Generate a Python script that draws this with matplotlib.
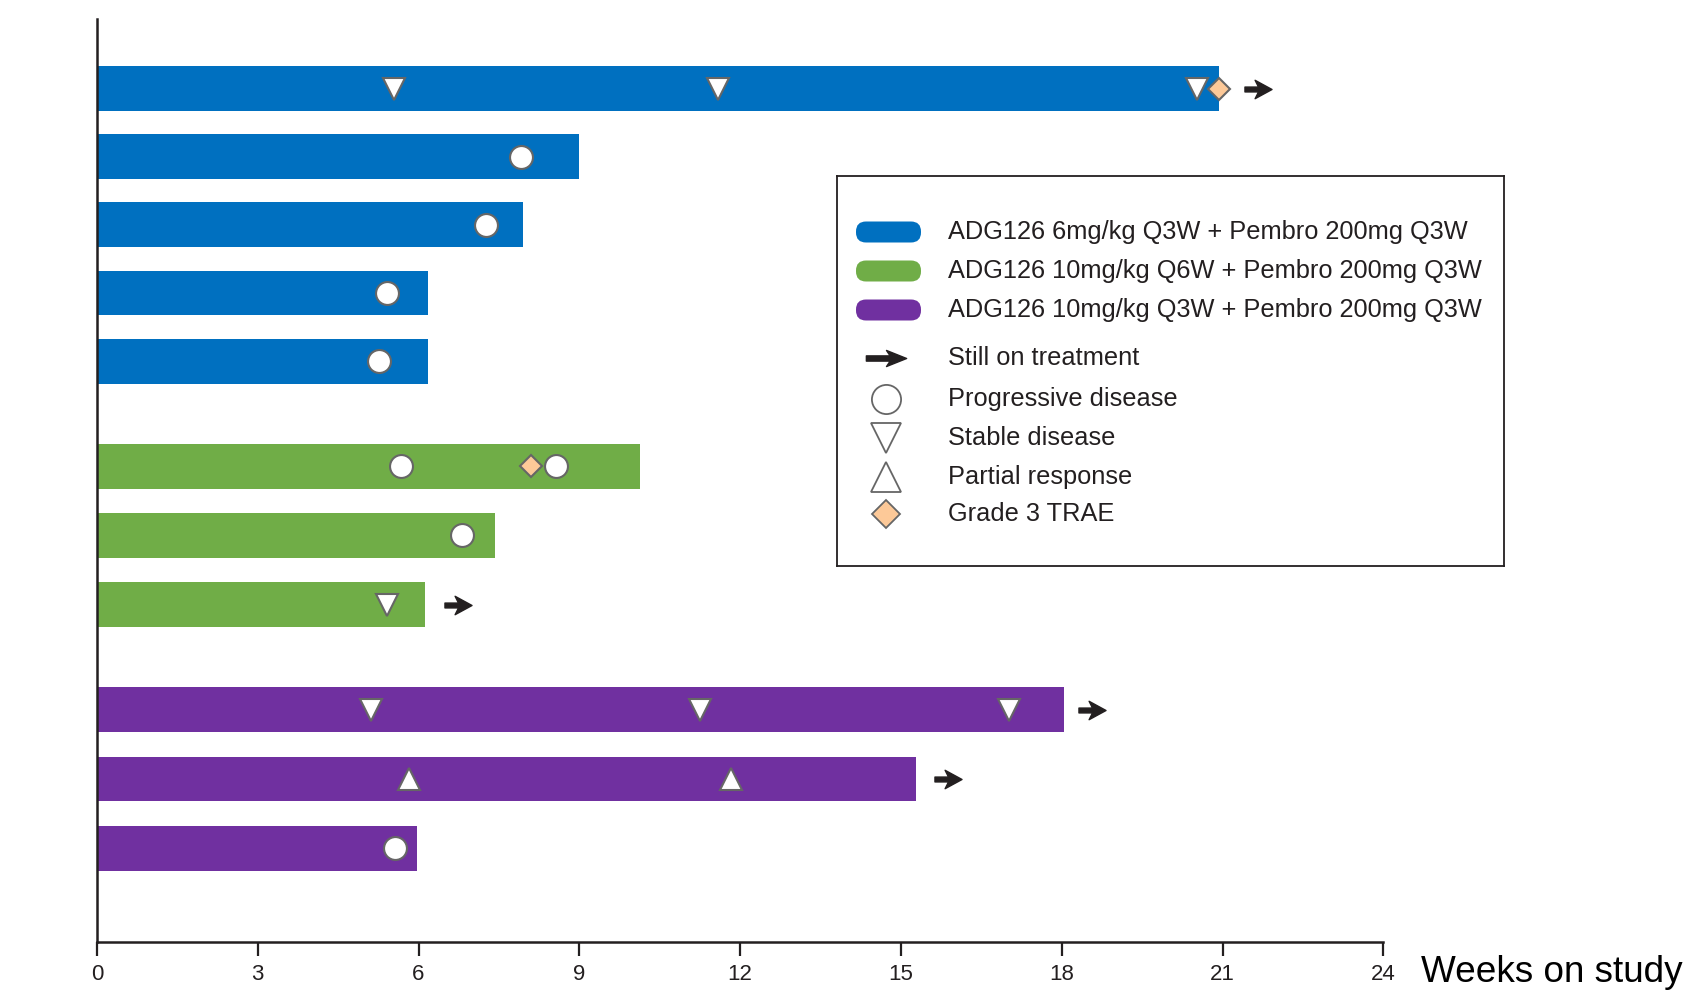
import matplotlib
matplotlib.use("Agg")
import matplotlib.pyplot as plt
from matplotlib.path import Path
from matplotlib.patches import FancyBboxPatch

plt.rcParams['font.family'] = ['Liberation Sans', 'DejaVu Sans']

# ---------------- data ----------------
group_names = ['ADG126 6mg/kg Q3W + Pembro 200mg Q3W',
               'ADG126 10mg/kg Q6W + Pembro 200mg Q3W',
               'ADG126 10mg/kg Q3W + Pembro 200mg Q3W']
group_colors = ['#0070C0', '#70AD47', '#7030A0']

patient_group = [0, 0, 0, 0, 0, 1, 1, 1, 2, 2, 2]
weeks_on_study = [20.93, 9.00, 7.95, 6.17, 6.17, 10.13, 7.43, 6.13, 18.04, 15.28, 5.98]

pd_weeks = [[], [7.91], [7.25], [5.42], [5.26], [5.67, 8.56], [6.82], [], [], [], [5.56]]
sd_weeks = [[5.54, 11.59, 20.52], [], [], [], [], [], [], [5.42], [5.11, 11.25, 17.01], [], []]
pr_weeks = [[], [], [], [], [], [], [], [], [], [5.82, 11.83], []]
trae_weeks = [[20.93], [], [], [], [], [8.09], [], [], [], [], []]
still_on_treatment = [21.66, None, None, None, None, None, None, 6.74, 18.56, 15.87, None]

x_ticks = [0, 3, 6, 9, 12, 15, 18, 21, 24]
x_label = 'Weeks on study'

marker_labels = ['Still on treatment', 'Progressive disease', 'Stable disease',
                 'Partial response', 'Grade 3 TRAE']

# ---------------- styles ----------------
TXT = '#231F20'
EDGE = '#666666'
TRAE_FACE = '#FDC998'

# row positions: near-unit spacing within group, wider gap between groups
row_y = []
y = 0.0
for i, g in enumerate(patient_group):
    if i > 0:
        if g != patient_group[i - 1]:
            y += 1.52
        else:
            y += 0.985 if g == 0 else 1.0
    row_y.append(y)


def arrow_path(head_back, notch, half_h, tail_h):
    verts = [(-1, tail_h), (notch, tail_h), (head_back, half_h), (1, 0),
             (head_back, -half_h), (notch, -tail_h), (-1, -tail_h), (-1, tail_h)]
    codes = [Path.MOVETO] + [Path.LINETO] * 6 + [Path.CLOSEPOLY]
    return Path(verts, codes)


chart_arrow = arrow_path(-0.25, 0.0, 0.68, 0.18)
legend_arrow = arrow_path(0.0, 0.18, 0.40, 0.13)

fig = plt.figure(figsize=(16.88, 10.02), dpi=100)
ax = fig.add_axes([96.9 / 1688, 1 - 942 / 1002, 1286.4 / 1688, (942 - 19.4) / 1002])

ax.barh(row_y, weeks_on_study, height=0.65, left=0,
        color=[group_colors[g] for g in patient_group], zorder=2)

mk = dict(markeredgecolor=EDGE, markeredgewidth=1.5, linestyle='none', zorder=4)
for i, yy in enumerate(row_y):
    if pd_weeks[i]:
        ax.plot(pd_weeks[i], [yy] * len(pd_weeks[i]), 'o', markersize=16.5,
                markerfacecolor='white', **mk)
    if sd_weeks[i]:
        ax.plot(sd_weeks[i], [yy] * len(sd_weeks[i]), 'v', markersize=16.5,
                markerfacecolor='white', **mk)
    if pr_weeks[i]:
        ax.plot(pr_weeks[i], [yy] * len(pr_weeks[i]), '^', markersize=16.5,
                markerfacecolor='white', **mk)
    if trae_weeks[i]:
        ax.plot(trae_weeks[i], [yy] * len(trae_weeks[i]), 'D', markersize=11.5,
                markerfacecolor=TRAE_FACE, **mk)
    if still_on_treatment[i] is not None:
        ax.plot([still_on_treatment[i]], [yy], marker=chart_arrow, markersize=19.5,
                color=TXT, linestyle='none', zorder=4)

ax.set_xlim(0, 24)
ax.set_ylim(row_y[-1] + 1.356, row_y[0] - 1.0)
ax.set_xticks(x_ticks)
ax.set_xticklabels([str(t) for t in x_ticks], fontsize=16, color=TXT)
ax.set_yticks([])
ax.tick_params(axis='x', length=10, width=1.6, color=TXT, pad=6)
for s in ['top', 'right']:
    ax.spines[s].set_visible(False)
for s in ['left', 'bottom']:
    ax.spines[s].set_linewidth(1.8)
    ax.spines[s].set_color(TXT)
    ax.spines[s].set_zorder(5)

fig.text(1421 / 1688, 1 - 973 / 1002, x_label, fontsize=26.6, color='black',
         ha='left', va='center')

# ---------------- legend (drawn in its own pixel-unit axes) ----------------
L, R, T, B = 836.5, 1503.5, 176, 566
lax = fig.add_axes([L / 1688, 1 - B / 1002, (R - L) / 1688, (B - T) / 1002])
lax.set_xlim(L, R)
lax.set_ylim(B, T)
lax.set_xticks([])
lax.set_yticks([])
for s in lax.spines.values():
    s.set_linewidth(1.3)
    s.set_color(TXT)

text_x = 948
group_rows = [232, 271, 310]
for name, col, yy in zip(group_names, group_colors, group_rows):
    lax.add_patch(FancyBboxPatch((856, yy - 10.5), 65, 21,
                                 boxstyle='round,pad=0,rounding_size=10',
                                 mutation_aspect=1, facecolor=col, edgecolor='none'))
    lax.text(text_x, yy, name, fontsize=18.3, color=TXT, ha='left', va='center')

marker_rows = [358, 399, 438, 477, 514]
hx = 886
lax.plot([hx], [marker_rows[0]], marker=legend_arrow, markersize=29, color=TXT,
         linestyle='none')
lmk = dict(markeredgecolor=EDGE, markeredgewidth=1.3, linestyle='none')
lax.plot([hx], [marker_rows[1]], 'o', markersize=21, markerfacecolor='white', **lmk)
lax.plot([hx], [marker_rows[2]], 'v', markersize=21, markerfacecolor='white', **lmk)
lax.plot([hx], [marker_rows[3]], '^', markersize=21, markerfacecolor='white', **lmk)
lax.plot([hx], [marker_rows[4]], 'D', markersize=14.5, markerfacecolor=TRAE_FACE, **lmk)
for lbl, yy in zip(marker_labels, marker_rows):
    lax.text(text_x, yy, lbl, fontsize=18.3, color=TXT, ha='left', va='center')

fig.savefig('out.png', dpi=100)
